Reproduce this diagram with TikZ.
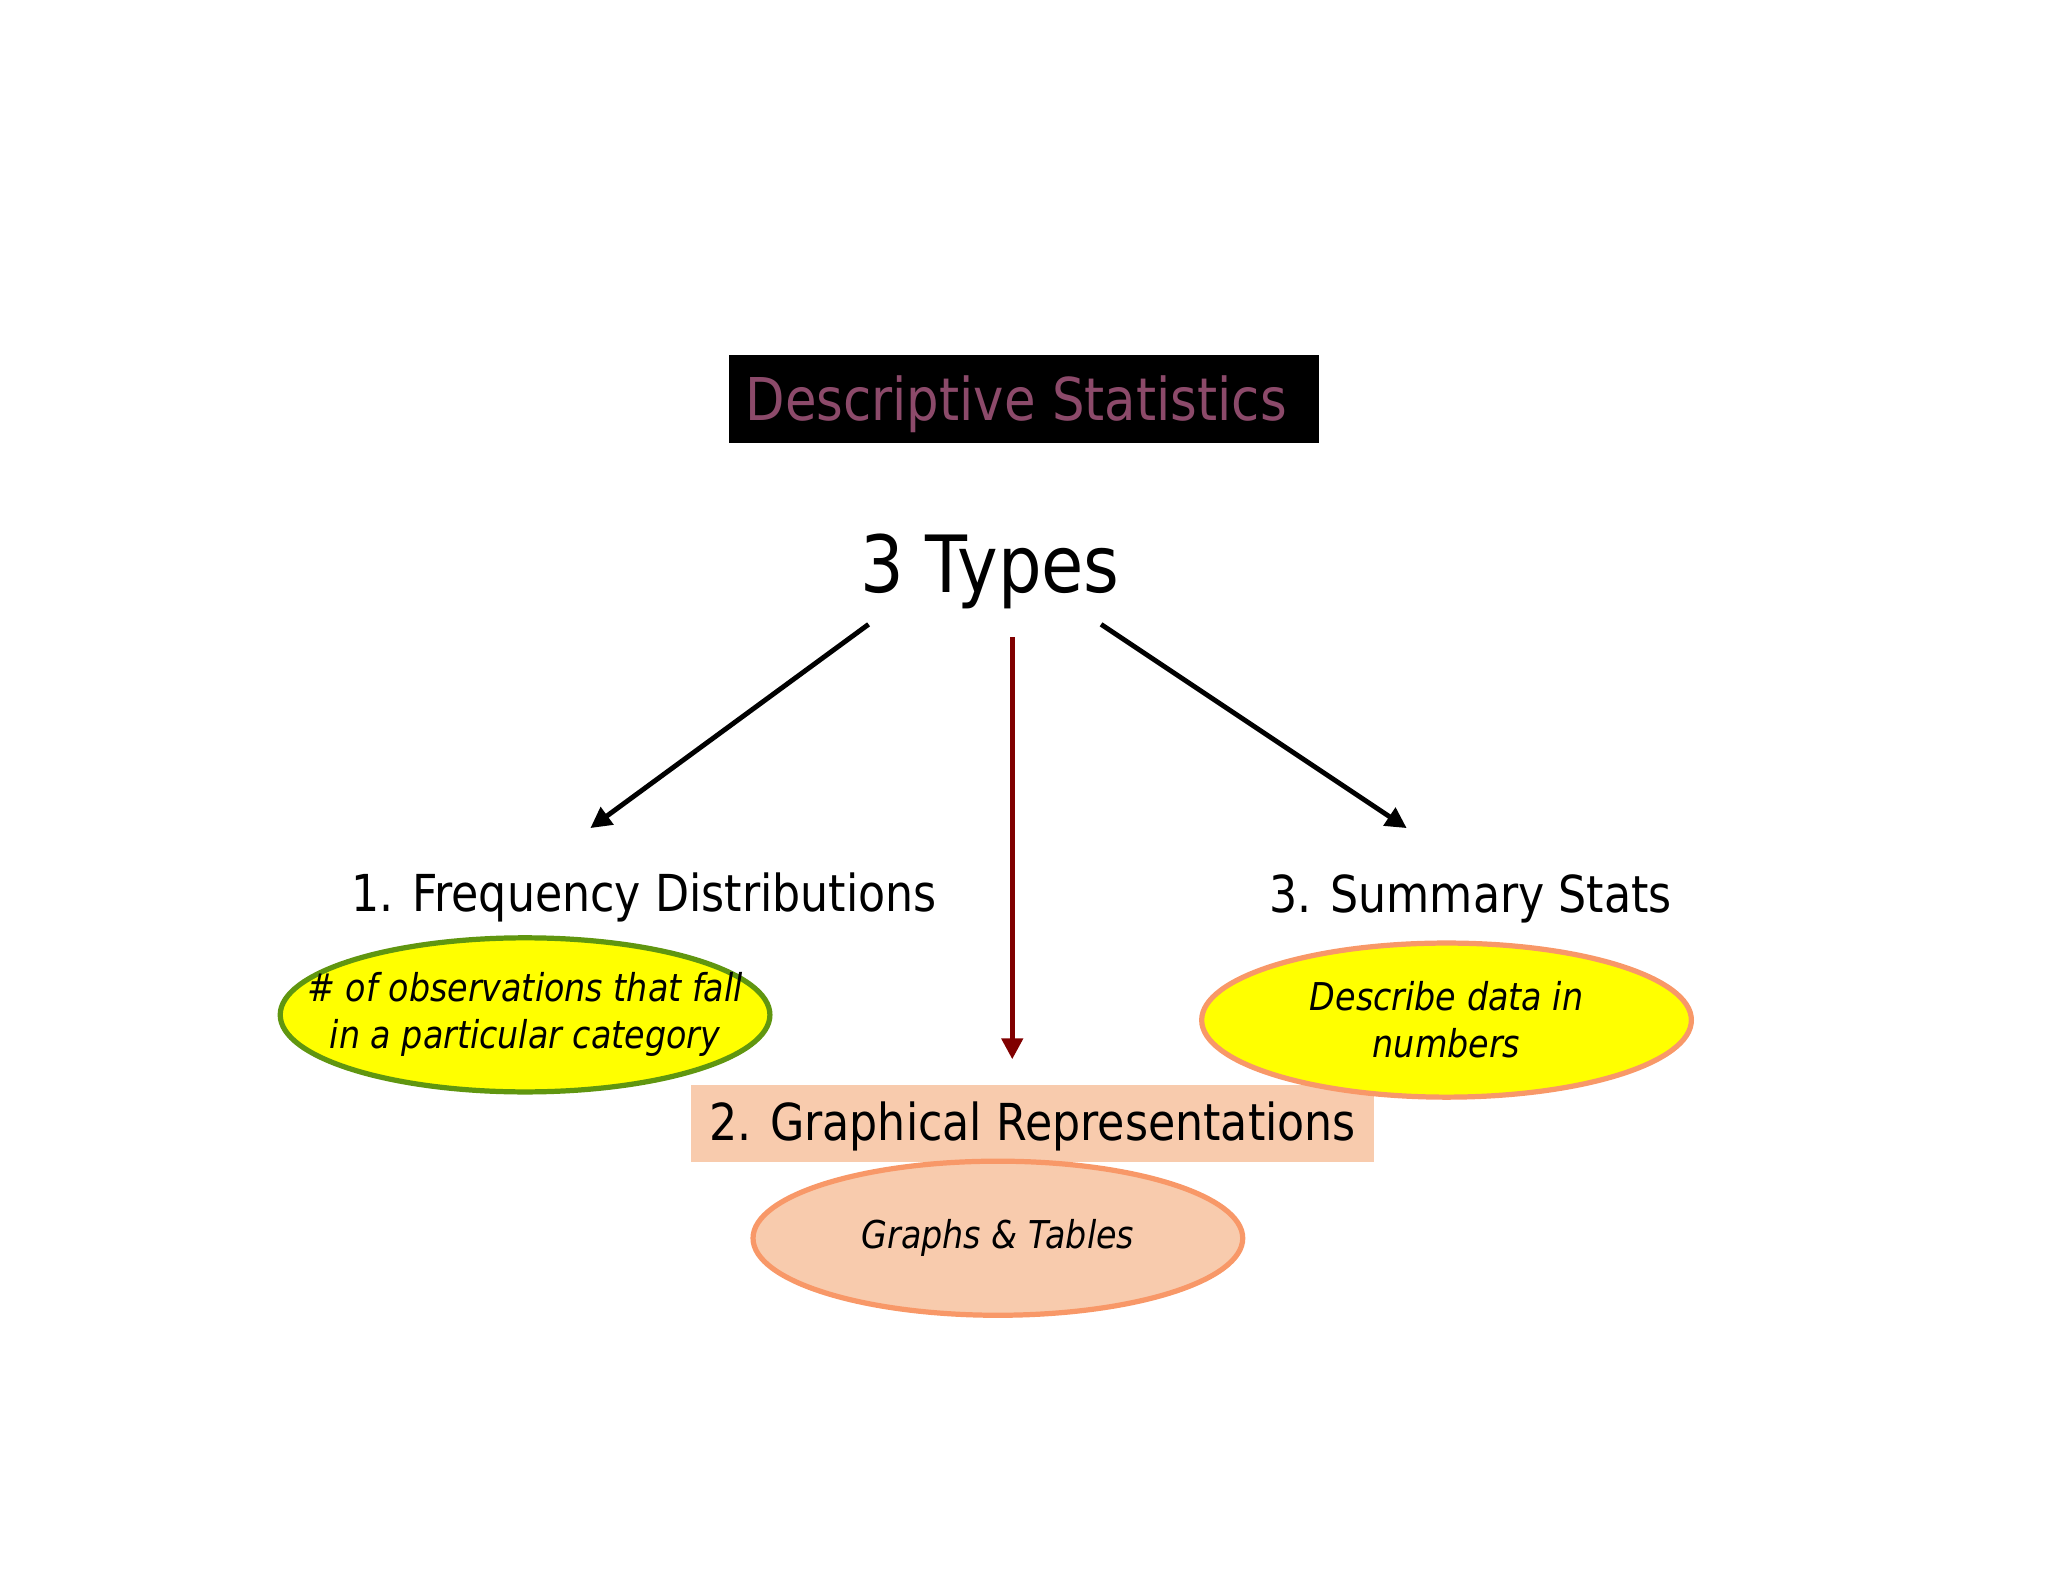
\documentclass[tikz,border=0pt]{standalone}
\usepackage{fontspec}
\setmainfont[FakeStretch=0.87]{DejaVu Sans}
\usetikzlibrary{shapes.geometric,arrows.meta}

\definecolor{titlemauve}{RGB}{140,74,106}
\definecolor{arrowred}{RGB}{128,0,0}
\definecolor{bubbleyellow}{RGB}{255,255,0}
\definecolor{olivegreen}{RGB}{96,150,16}
\definecolor{peachline}{RGB}{248,152,104}
\definecolor{peach}{RGB}{248,203,173}

\tikzset{
  titlebox/.style={fill=black, text=titlemauve, minimum width=9.04cm, minimum height=1.34cm, inner sep=0pt, text height=0.88cm, text depth=0.21cm, font=\fontsize{25.7}{30}\selectfont},
  typelabel/.style={anchor=base, inner sep=0pt, font=\fontsize{22.2}{26}\selectfont},
  bubble/.style={ellipse, minimum width=7.5cm, minimum height=2.36cm, inner xsep=-0.75cm, inner ysep=0pt, line width=0.08cm, align=center, font=\fontsize{16.7}{20.5}\selectfont\itshape},
  branch/.style={line width=0.075cm, -{Triangle[length=0.32cm,width=0.32cm]}},
}

\begin{document}
\begin{tikzpicture}[x=0.02cm, y=-0.02cm]
\useasboundingbox (0,0) rectangle (1568,1211);

% Heading
\node[titlebox] (title) at (784,305.5) {Descriptive Statistics\hspace*{0.24cm}};
\node[anchor=base, inner sep=0pt, font=\fontsize{34.4}{40}\selectfont] (types) at (758,454) {3 Types};

% Branches
\coordinate (freqstart) at (665,478);
\coordinate (freqend) at (452,634);
\coordinate (graphstart) at (775,488);
\coordinate (graphend) at (775,811);
\coordinate (summstart) at (843,478);
\coordinate (summend) at (1077,634);
\draw[branch] (freqstart) -- (freqend);
\draw[branch, arrowred] (graphstart) -- (graphend);
\draw[branch] (summstart) -- (summend);

% Type 1
\node[typelabel] (freq) at (493,698) {1. Frequency Distributions};
\node[bubble, draw=olivegreen, fill=bubbleyellow] (freqnote) at (402,777) {\# of observations that fall\\in a particular category};

% Type 2
\node[fill=peach, minimum width=10.46cm, minimum height=1.18cm, inner sep=0pt, text depth=0.1cm, font=\fontsize{22.2}{26}\selectfont] (graph) at (790.5,860.5) {2. Graphical Representations};
\node[bubble, draw=peachline, fill=peach] (graphnote) at (764,948) {Graphs \& Tables};

% Type 3
\node[typelabel] (summ) at (1126,699) {3. Summary Stats};
\node[bubble, draw=peachline, fill=bubbleyellow] (summnote) at (1107.5,781) {Describe data in\\numbers};
\end{tikzpicture}
\end{document}
